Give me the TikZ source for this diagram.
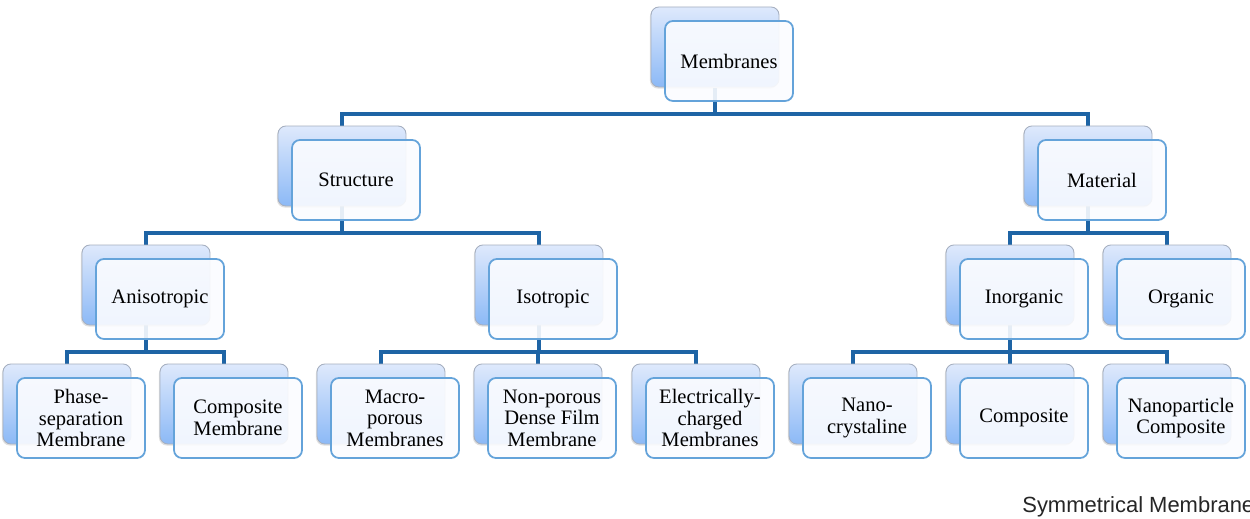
\documentclass[tikz,border=0pt]{standalone}
\usepackage{fontspec}
\setmainfont{Liberation Serif}
\newfontfamily\capfont{Liberation Sans}
\usetikzlibrary{shadows}
\definecolor{linecol}{RGB}{30,100,165}
\definecolor{frontborder}{RGB}{100,163,218}
\definecolor{backborder}{RGB}{165,175,192}
\definecolor{backtop}{RGB}{222,233,252}
\definecolor{backbot}{RGB}{140,185,246}
\definecolor{frontfill}{RGB}{251,252,255}
\tikzset{
  backbox/.style={draw=backborder, line width=0.5pt, rounded corners=4.5pt,
    top color=backtop, bottom color=backbot,
    minimum width=2.56cm, minimum height=1.6cm, inner sep=0pt,
    drop shadow={opacity=0.25, shadow xshift=-0.6pt, shadow yshift=-0.9pt}},
  frontbox/.style={draw=frontborder, line width=1pt, rounded corners=4.5pt,
    fill=frontfill, fill opacity=0.9, text opacity=1,
    minimum width=2.56cm, minimum height=1.6cm, inner sep=0pt,
    align=center, font=\fontsize{11.7}{12.2}\selectfont},
  conn/.style={draw=linecol, line width=1.9pt}
}
\newcommand\memnode[4]{%
  \node[backbox] (#1-b) at (#2,#3) {};
  \node[frontbox] (#1) at (#2+14,#3+14) {#4};
}
\begin{document}
\begin{tikzpicture}[x=0.02cm,y=-0.02cm]
\fill[white] (0,0) rectangle (1250,519);
\useasboundingbox (0,0) rectangle (1250,519);
\clip (0,0) rectangle (1250,519);
% bus coordinates
\coordinate (b1) at (715,114);
\coordinate (b2) at (342,233);
\coordinate (b3) at (1088,233);
\coordinate (b4) at (146,352);
\coordinate (b5) at (539,352);
\coordinate (b6) at (1010,352);
% invisible anchors for connector ends (back box centres)
\begin{scope}[every node/.style={inner sep=0pt,minimum size=0pt}]
\node (mem-s) at (715,88) {};
\node (str-s) at (342,206) {};
\node (mat-s) at (1088,206) {};
\node (ani-s) at (146,325) {};
\node (iso-s) at (539,325) {};
\node (ino-s) at (1010,325) {};
\node (str-n) at (342,126) {};
\node (mat-n) at (1088,126) {};
\node (ani-n) at (146,245) {};
\node (iso-n) at (539,245) {};
\node (ino-n) at (1010,245) {};
\node (org-n) at (1167,245) {};
\node (ph-n) at (67,364) {};
\node (cm-n) at (224,364) {};
\node (ma-n) at (381,364) {};
\node (np-n) at (538,364) {};
\node (el-n) at (696,364) {};
\node (nc-n) at (853,364) {};
\node (co-n) at (1010,364) {};
\node (nn-n) at (1167,364) {};
\end{scope}
% connectors
\draw[conn] (mem-s) -- (b1);
\draw[conn] (b1) -| (str-n);
\draw[conn] (b1) -| (mat-n);
\draw[conn] (str-s) -- (b2);
\draw[conn] (b2) -| (ani-n);
\draw[conn] (b2) -| (iso-n);
\draw[conn] (mat-s) -- (b3);
\draw[conn] (b3) -| (ino-n);
\draw[conn] (b3) -| (org-n);
\draw[conn] (ani-s) -- (b4);
\draw[conn] (b4) -| (ph-n);
\draw[conn] (b4) -| (cm-n);
\draw[conn] (iso-s) -- (b5);
\draw[conn] (b5) -| (ma-n);
\draw[conn] (b5) -| (np-n);
\draw[conn] (b5) -| (el-n);
\draw[conn] (ino-s) -- (b6);
\draw[conn] (b6) -| (nc-n);
\draw[conn] (b6) -| (co-n);
\draw[conn] (b6) -| (nn-n);
% nodes
\memnode{mem}{715}{47}{Membranes}
\memnode{str}{342}{166}{Structure}
\memnode{mat}{1088}{166}{Material}
\memnode{ani}{146}{285}{Anisotropic}
\memnode{iso}{539}{285}{Isotropic}
\memnode{ino}{1010}{285}{Inorganic}
\memnode{org}{1167}{285}{Organic}
\memnode{ph}{67}{404}{Phase-\\separation\\Membrane}
\memnode{cm}{224}{404}{Composite\\Membrane}
\memnode{ma}{381}{404}{Macro-\\porous\\Membranes}
\memnode{np}{538}{404}{Non-porous\\Dense Film\\Membrane}
\memnode{el}{696}{404}{Electrically-\\charged\\Membranes}
\memnode{nc}{853}{404}{Nano-\\crystaline}
\memnode{co}{1010}{404}{Composite}
\memnode{nn}{1167}{404}{Nanoparticle\\Composite}
\node[anchor=base west, inner sep=0pt, font=\capfont\fontsize{12.5}{14}\selectfont, text=black!85] (cap) at (1022,513) {Symmetrical Membrane};
\end{tikzpicture}
\end{document}
